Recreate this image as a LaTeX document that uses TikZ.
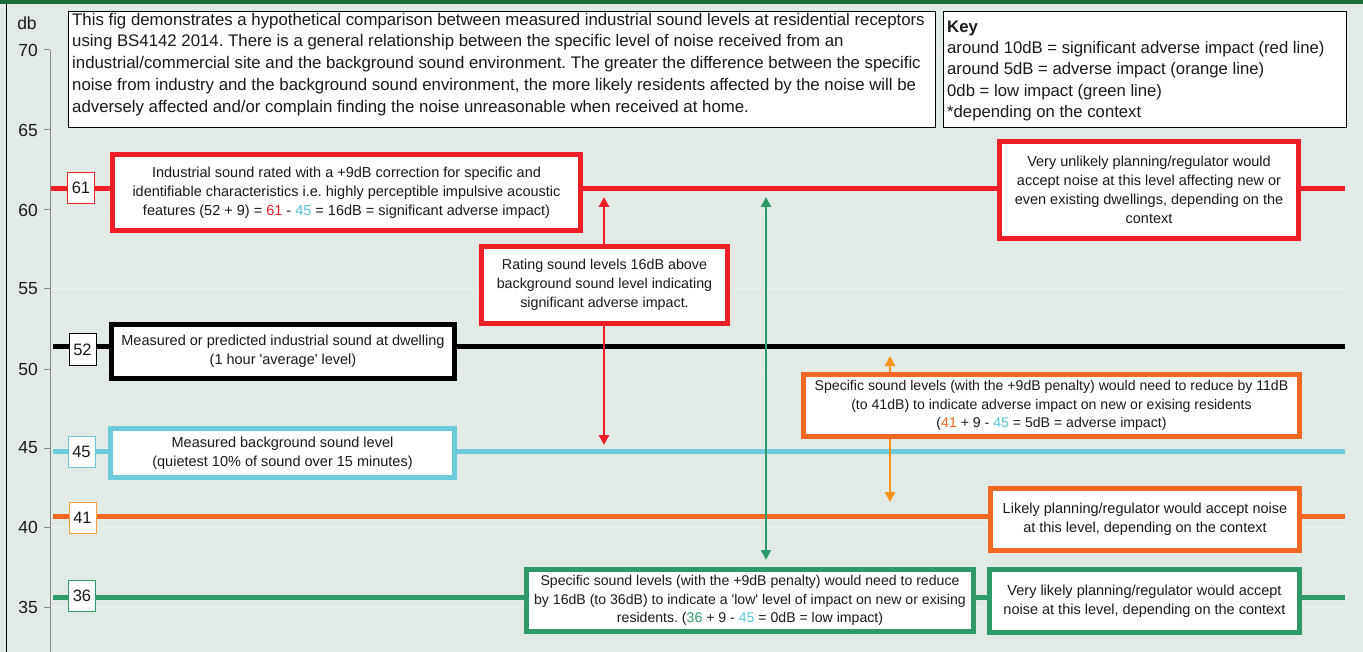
\documentclass[tikz,border=0pt]{standalone}
\usepackage{fontspec}
\setmainfont{Liberation Sans}
\usetikzlibrary{arrows.meta}
\frenchspacing
\definecolor{bg}{HTML}{E2EAE5}
\definecolor{topbar}{HTML}{1B6B3C}
\definecolor{cred}{HTML}{EE1F26}
\definecolor{ccyan}{HTML}{6CCCDC}
\definecolor{ctcyan}{HTML}{5BC3DA}
\definecolor{corange}{HTML}{F26722}
\definecolor{clorange}{HTML}{F7A13B}
\definecolor{camber}{HTML}{F7941D}
\definecolor{cgreen}{HTML}{2F9A69}
\definecolor{cgrid}{HTML}{EBF0EC}
\definecolor{caxis}{HTML}{8A8A8A}
\definecolor{ctext}{HTML}{1A1A1A}
\begin{document}
\begin{tikzpicture}[x=1pt,y=-1pt,
  bigbox/.style={draw, line width=5pt, fill=white, inner sep=0pt, align=center, text=ctext, font=\fontsize{14.5}{19}\selectfont},
  smallbox/.style={bigbox, font=\fontsize{14.1}{18.3}\selectfont},
  numbox/.style={draw, line width=1pt, fill=white, inner sep=0pt, minimum width=27pt, minimum height=31pt, text=ctext, font=\fontsize{16.5}{18}\selectfont},
  level/.style={line width=5pt},
  dbl/.style={line width=2.5pt, {Triangle[length=10pt,width=10pt]}-{Triangle[length=10pt,width=10pt]}},
  ticklab/.style={anchor=east, font=\fontsize{17.5}{20}\selectfont, inner sep=0pt, text=ctext},
]
\fill[bg] (0,0) rectangle (1363,652);
\useasboundingbox (0,0) rectangle (1363,652);
\fill[topbar] (0,0) rectangle (1363,4);
\draw[line width=1pt, black] (6,4) -- (6,652);

% grid, ticks and tick labels
\foreach \v/\y in {70/50,65/130,60/210,55/289,50/369,45/448,40/527,35/607}{
  \draw[cgrid, line width=1pt] (51,\y) -- (1345,\y);
  \draw[caxis, line width=1pt] (44,\y) -- (50,\y);
  \node[ticklab] (t\v) at (38,\y) {\v};
}
\draw[caxis, line width=1pt] (50,50) -- (50,652);
\node[font=\fontsize{17.5}{20}\selectfont, inner sep=0pt, text=ctext] (db) at (27,23) {db};

% level lines
\coordinate (rL) at (51,189);  \coordinate (rR) at (1345,189);
\coordinate (kL) at (53,347);  \coordinate (kR) at (1345,347);
\coordinate (cL) at (53,451.5);\coordinate (cR) at (1345,451.5);
\coordinate (oL) at (53,516);  \coordinate (oR) at (1345,516);
\coordinate (gL) at (53,597);  \coordinate (gR) at (1345,597);
\draw[level, cred] (rL) -- (rR);
\draw[level, black] (kL) -- (kR);
\draw[level, ccyan] (cL) -- (cR);
\draw[level, corange] (oL) -- (oR);
\draw[level, cgreen] (gL) -- (gR);

% arrows
\coordinate (ra1) at (604,197); \coordinate (ra2) at (604,445);
\coordinate (ga1) at (766,197); \coordinate (ga2) at (766,560);
\coordinate (oa1) at (890,356); \coordinate (oa2) at (890,502);
\draw[dbl, cred] (ra1) -- (ra2);
\draw[dbl, cgreen] (ga1) -- (ga2);
\draw[dbl, camber] (oa1) -- (oa2);

% intro box
\node[draw, line width=1.3pt, fill=white, minimum width=866.7pt, minimum height=115.7pt, inner sep=0pt] (intro) at (502,69.5) {};
\node[anchor=north west, align=left, inner sep=0pt, text=ctext, font=\fontsize{16.8}{21.75}\selectfont] (introtext) at (72,12.8) {This fig demonstrates a hypothetical comparison between measured industrial sound levels at residential receptors\\
using BS4142 2014. There is a general relationship between the specific level of noise received from an\\
industrial/commercial site and the background sound environment. The greater the difference between the specific\\
noise from industry and the background sound environment, the more likely residents affected by the noise will be\\
adversely affected and/or complain finding the noise unreasonable when received at home.};

% key box
\node[draw, line width=1.3pt, fill=white, minimum width=402.7pt, minimum height=115.7pt, inner sep=0pt] (key) at (1145,69.5) {};
\node[anchor=north west, align=left, inner sep=0pt, text=ctext, font=\fontsize{16.7}{21.3}\selectfont] (keytext) at (947,20.5) {\textbf{Key}\\
around 10dB = significant adverse impact (red line)\\
around 5dB = adverse impact (orange line)\\
0db = low impact (green line)\\
{*}depending on the context};

% number labels
\node[numbox, draw=cred] (n61) at (81,188) {61};
\node[numbox, draw=black] (n52) at (82.5,349.5) {52};
\node[numbox, draw=ccyan] (n45) at (81.5,452) {45};
\node[numbox, draw=clorange] (n41) at (82.5,517.5) {41};
\node[numbox, draw=cgreen] (n36) at (82,595.5) {36};

% boxes
\node[bigbox, draw=cred, minimum width=468pt, minimum height=76pt] (redA) at (346.5,192.5) {Industrial sound rated with a +9dB correction for specific and\\
identifiable characteristics i.e. highly perceptible impulsive acoustic\\
features (52 + 9) = \textcolor{cred}{61} - \textcolor{ctcyan}{45} = 16dB = significant adverse impact)};
\node[bigbox, draw=cred, minimum width=246pt, minimum height=77pt, font=\fontsize{14.3}{19}\selectfont] (rating) at (604.5,285) {Rating sound levels 16dB above\\
background sound level indicating\\
significant adverse impact.};
\node[bigbox, draw=cred, minimum width=299pt, minimum height=97pt] (redB) at (1149,190) {Very unlikely planning/regulator would\\
accept noise at this level affecting new or\\
even existing dwellings, depending on the\\
context};
\node[bigbox, draw=black, minimum width=343pt, minimum height=54pt] (blackA) at (283,351.5) {Measured or predicted industrial sound at dwelling\\
(1 hour \textquotesingle average\textquotesingle{} level)};
\node[bigbox, draw=ccyan, minimum width=344pt, minimum height=49pt] (cyanA) at (282.5,453) {Measured background sound level\\
(quietest 10\% of sound over 15 minutes)};
\node[smallbox, draw=corange, minimum width=496pt, minimum height=62pt] (orangeSpec) at (1051.5,405.5) {Specific sound levels (with the +9dB penalty) would need to reduce by 11dB\\
(to 41dB) to indicate adverse impact on new or exising residents\\
(\textcolor{corange}{41} + 9 - \textcolor{ctcyan}{45} = 5dB = adverse impact)};
\node[bigbox, draw=corange, minimum width=309pt, minimum height=62pt] (likely) at (1145,519.5) {Likely planning/regulator would accept noise\\
at this level, depending on the context};
\node[smallbox, draw=cgreen, minimum width=447pt, minimum height=62pt] (greenSpec) at (750,600.5) {Specific sound levels (with the +9dB penalty) would need to reduce\\
by 16dB (to 36dB) to indicate a \textquotesingle low\textquotesingle{} level of impact on new or exising\\
residents. (\textcolor{cgreen}{36} + 9 - \textcolor{ctcyan}{45} = 0dB = low impact)};
\node[bigbox, draw=cgreen, minimum width=310pt, minimum height=63pt] (veryLikely) at (1144.5,601) {Very likely planning/regulator would accept\\
noise at this level, depending on the context};
\end{tikzpicture}
\end{document}
